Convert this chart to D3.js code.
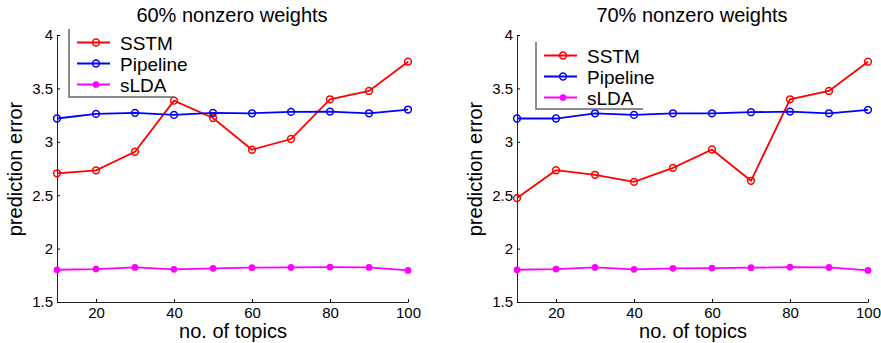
<!DOCTYPE html>
<html>
<head>
<meta charset="utf-8">
<script src="https://cdn.jsdelivr.net/npm/d3@7"></script>
<style>
body { margin: 0; background: white; }
text { font-family: "Liberation Sans", Arial, sans-serif; fill: black; }
</style>
</head>
<body>
<svg width="881" height="343"></svg>
<script>
var topics = [10, 20, 30, 40, 50, 60, 70, 80, 90, 100];
var xTicks = [20, 40, 60, 80, 100];
var yTicks = [1.5, 2, 2.5, 3, 3.5, 4];

var sstm60 = [2.705, 2.733, 2.907, 3.385, 3.223, 2.926, 3.026, 3.398, 3.476, 3.75];
var pipe60 = [3.218, 3.261, 3.271, 3.252, 3.271, 3.267, 3.28, 3.283, 3.267, 3.302];
var slda60 = [1.802, 1.808, 1.824, 1.806, 1.815, 1.821, 1.824, 1.827, 1.824, 1.796];

var sstm70 = [2.473, 2.734, 2.691, 2.625, 2.756, 2.928, 2.635, 3.398, 3.476, 3.75];
var pipe70 = [3.218, 3.218, 3.267, 3.252, 3.267, 3.267, 3.277, 3.283, 3.267, 3.299];
var slda70 = [1.802, 1.808, 1.824, 1.806, 1.815, 1.818, 1.821, 1.827, 1.824, 1.796];

var names = ["SSTM", "Pipeline", "sLDA"];
var colors = ["#ff0000", "#0000ff", "#ff00ff"];

var svg = d3.select("svg");

function panel(left, title, series, leg){
    var x = d3.scaleLinear().domain([10, 100]).range([left, left + 351]);
    var y = d3.scaleLinear().domain([1.5, 4]).range([302, 35]);
    var g = svg.append("g");

    // axes (box off, ticks inward)
    g.append("g")
        .attr("transform", "translate(0,302)")
        .call(d3.axisBottom(x).tickValues(xTicks).tickSizeInner(-3).tickSizeOuter(0).tickPadding(5))
        .call(function(a){
            a.select(".domain").attr("stroke", "#222");
            a.selectAll("text").style("font-size", "15px").attr("dy", "0.71em");
        });
    g.append("g")
        .attr("transform", "translate(" + left + ",0)")
        .call(d3.axisLeft(y).tickValues(yTicks).tickFormat(d3.format("")).tickSizeInner(-3).tickSizeOuter(0).tickPadding(4))
        .call(function(a){
            a.select(".domain").attr("stroke", "#222");
            a.selectAll("text").style("font-size", "15px");
        });

    g.append("text").attr("x", left + 175).attr("y", 22)
        .attr("text-anchor", "middle").style("font-size", "20px").text(title);
    g.append("text").attr("x", left + 176).attr("y", 338)
        .attr("text-anchor", "middle").style("font-size", "20px").text("no. of topics");
    g.append("text").attr("transform", "translate(" + (left - 35) + ",169) rotate(-90)")
        .attr("text-anchor", "middle").style("font-size", "20px").text("prediction error");

    var line = d3.line().x(function(d, i){ return x(topics[i]); }).y(function(d){ return y(d); });

    series.forEach(function(s, k){
        g.append("path").datum(s)
            .attr("d", line)
            .attr("fill", "none")
            .attr("stroke", colors[k])
            .attr("stroke-width", 1.8);
        g.selectAll(".m" + k).data(s).enter().append("circle")
            .attr("cx", function(d, i){ return x(topics[i]); })
            .attr("cy", function(d){ return y(d); })
            .attr("r", k == 2 ? 2.6 : 3.4)
            .attr("fill", k == 2 ? colors[k] : "none")
            .attr("stroke", colors[k])
            .attr("stroke-width", 1.5);
    });

    // legend
    var lg = g.append("g");
    lg.append("rect").attr("x", leg.x).attr("y", leg.y).attr("width", leg.w).attr("height", leg.h)
        .attr("fill", "white");
    lg.append("path")
        .attr("d", "M" + leg.x + "," + leg.y + "V" + (leg.y + leg.h) + "H" + (leg.x + leg.w))
        .attr("fill", "none").attr("stroke", "#666").attr("stroke-width", 1.5);
    names.forEach(function(n, k){
        var ry = leg.y + 13.5 + k * 21;
        lg.append("line").attr("x1", leg.x + 8).attr("x2", leg.x + 41)
            .attr("y1", ry).attr("y2", ry)
            .attr("stroke", colors[k]).attr("stroke-width", 1.8);
        lg.append("circle").attr("cx", leg.x + 27).attr("cy", ry)
            .attr("r", k == 2 ? 2.6 : 3.4)
            .attr("fill", k == 2 ? colors[k] : "none")
            .attr("stroke", colors[k]).attr("stroke-width", 1.5);
        lg.append("text").attr("x", leg.x + 51).attr("y", ry + 7)
            .style("font-size", "19px").text(n);
    });
}

panel(57, "60% nonzero weights", [sstm60, pipe60, slda60], {x: 69, y: 29, w: 106, h: 68});
panel(517, "70% nonzero weights", [sstm70, pipe70, slda70], {x: 536, y: 42, w: 107, h: 67});
</script>
</body>
</html>
